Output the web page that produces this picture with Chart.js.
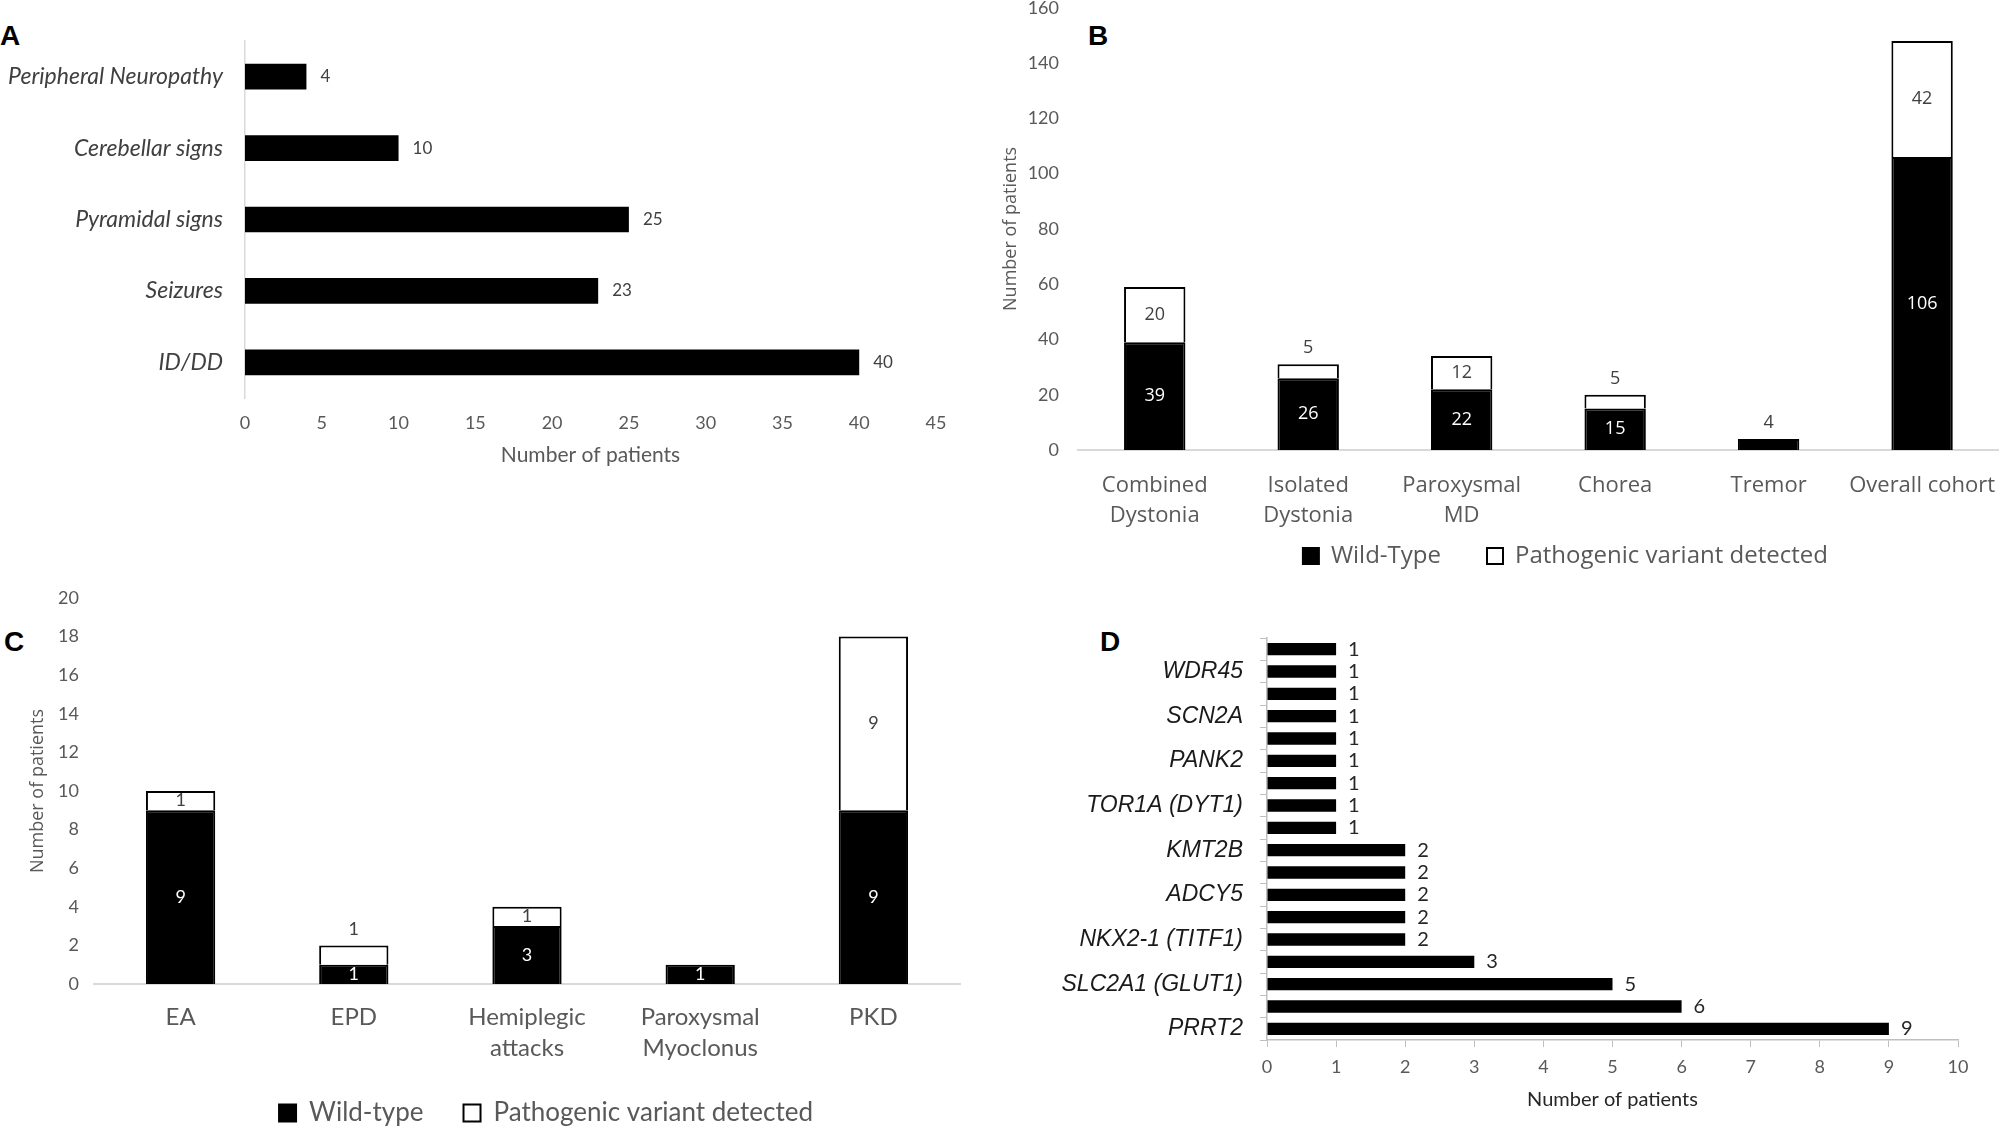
<!DOCTYPE html>
<html><head><meta charset="utf-8">
<script src="https://cdn.jsdelivr.net/npm/chart.js@4.4.1/dist/chart.umd.min.js"></script>
<style>
html,body{margin:0;padding:0;background:#fff;width:2000px;height:1128px;overflow:hidden;position:relative}
.panel{position:absolute}
.letter{position:absolute;font:bold 28px "Liberation Sans",Arial,sans-serif;color:#000;line-height:28px}
</style></head><body>
<div class="letter" style="left:0px;top:22px">A</div>
<div class="letter" style="left:1088px;top:22px">B</div>
<div class="letter" style="left:4px;top:628px">C</div>
<div class="letter" style="left:1100px;top:628px">D</div>
<div class="panel" style="left:0;top:0;width:980px;height:480px"><canvas id="cA"></canvas></div>
<div class="panel" style="left:960px;top:-22px;width:1055px;height:600px"><canvas id="cB"></canvas></div>
<div class="panel" style="left:0;top:570px;width:980px;height:566px"><canvas id="cC"></canvas></div>
<div class="panel" style="left:1000px;top:600px;width:1000px;height:528px"><canvas id="cD"></canvas></div>
<script>
// ---------- DATA ----------
const aCategories = ['Peripheral Neuropathy', 'Cerebellar signs', 'Pyramidal signs', 'Seizures', 'ID/DD'];
const aValues = [4, 10, 25, 23, 40];

const bCategories = [['Combined', 'Dystonia'], ['Isolated', 'Dystonia'], ['Paroxysmal', 'MD'], 'Chorea', 'Tremor', 'Overall cohort'];
const bWildType = [39, 26, 22, 15, 4, 106];
const bPathogenic = [20, 5, 12, 5, 0, 42];

const cCategories = ['EA', 'EPD', ['Hemiplegic', 'attacks'], ['Paroxysmal', 'Myoclonus'], 'PKD'];
const cWildType = [9, 1, 3, 1, 9];
const cPathogenic = [1, 1, 1, 0, 9];

const dGenes = ['', 'WDR45', '', 'SCN2A', '', 'PANK2', '', 'TOR1A (DYT1)', '', 'KMT2B', '', 'ADCY5', '', 'NKX2-1 (TITF1)', '', 'SLC2A1 (GLUT1)', '', 'PRRT2'];
const dValues = [1, 1, 1, 1, 1, 1, 1, 1, 1, 2, 2, 2, 2, 2, 3, 5, 6, 9];

const seriesNames = { wildB: 'Wild-Type', wildC: 'Wild-type', path: 'Pathogenic variant detected' };

// ---------- STYLE ----------
const GREY = '#595959';
const DARK = '#404040';
const AXIS = '#d9d9d9';
const CAL = 'Lato, "Noto Sans", sans-serif';
const SEG = '"Open Sans", "Noto Sans", sans-serif';
const ARI = '"Liberation Sans", Arial, sans-serif';

// let multi-line tick labels extend past the axis box
Chart.Scale.prototype._computeLabelArea = function () { return undefined; };

// shift legend horizontally
const legendShift = {
  id: 'legendShift',
  afterLayout(chart, args, opts) {
    if (chart.legend && opts.dx) { chart.legend.left += opts.dx; chart.legend.right += opts.dx; }
  }
};

// value label plugin
const valueLabels = {
  id: 'valueLabels',
  afterDatasetsDraw(chart, args, opts) {
    const ctx = chart.ctx;
    const sets = opts.sets || [];
    ctx.save();
    chart.data.datasets.forEach((ds, di) => {
      const cfg = sets[di];
      if (!cfg) return;
      const meta = chart.getDatasetMeta(di);
      meta.data.forEach((el, i) => {
        const v = ds.data[i];
        if (!v) return;
        const p = el.getProps(['x', 'y', 'base'], true);
        ctx.font = cfg.font;
        if (cfg.mode === 'end') {
          ctx.fillStyle = cfg.color;
          ctx.textAlign = 'left'; ctx.textBaseline = 'middle';
          ctx.fillText(String(v), p.x + cfg.offset, p.y);
        } else if (cfg.above && cfg.above.includes(i)) {
          let top = Infinity;
          chart.data.datasets.forEach((d2, dj) => {
            if (d2.data[i]) top = Math.min(top, chart.getDatasetMeta(dj).data[i].y);
          });
          ctx.fillStyle = cfg.aboveColor;
          ctx.textAlign = 'center'; ctx.textBaseline = 'middle';
          ctx.fillText(String(v), p.x, top - cfg.offset);
        } else {
          ctx.fillStyle = cfg.color;
          ctx.textAlign = 'center'; ctx.textBaseline = 'middle';
          ctx.fillText(String(v), p.x, (p.y + p.base) / 2);
        }
      });
    });
    ctx.restore();
  }
};
Chart.register(valueLabels, legendShift);
Chart.defaults.font.family = CAL;
Chart.defaults.color = GREY;

// ---------- PANEL A ----------
new Chart(document.getElementById('cA'), {
  type: 'bar',
  data: { labels: aCategories, datasets: [{ data: aValues, backgroundColor: '#000', borderColor: '#000', borderWidth: 0, barPercentage: 0.36, categoryPercentage: 1 }] },
  options: {
    indexAxis: 'y', responsive: true, maintainAspectRatio: false, animation: false,
    layout: { padding: { left: 0, right: 44, top: 41, bottom: 0 } },
    plugins: { legend: { display: false }, tooltip: { enabled: false },
      valueLabels: { sets: [{ mode: 'end', offset: 14, color: DARK, font: '17px ' + CAL }] } },
    scales: {
      x: { min: 0, max: 45, ticks: { stepSize: 5, padding: 14, color: GREY, font: { size: 18, family: CAL } },
        grid: { display: false, drawTicks: false }, border: { display: false },
        title: { display: true, text: 'Number of patients', color: GREY, font: { size: 21, family: CAL }, padding: { top: 0, bottom: 12 } },
        afterFit: s => { s.height = 82; } },
      y: { ticks: { padding: 22, color: DARK, font: { size: 23, style: 'italic', family: CAL } },
        grid: { display: false, drawTicks: false }, border: { display: true, color: AXIS, width: 1.5 },
        afterFit: s => { s.width = 245; } }
    }
  }
});

// ---------- PANEL B ----------
new Chart(document.getElementById('cB'), {
  type: 'bar',
  data: { labels: bCategories, datasets: [
    { label: seriesNames.wildB, data: bWildType, backgroundColor: '#000', borderColor: '#000', borderWidth: 2, barPercentage: 0.4, categoryPercentage: 1 },
    { label: seriesNames.path, data: bPathogenic, backgroundColor: '#fff', borderColor: '#000', borderWidth: 2, barPercentage: 0.4, categoryPercentage: 1 }
  ] },
  options: {
    responsive: true, maintainAspectRatio: false, animation: false,
    layout: { padding: { left: 0, right: 0, top: 0, bottom: 0 } },
    plugins: {
      legend: { display: true, position: 'bottom', fullSize: false,
        labels: { boxWidth: 16, boxHeight: 16, padding: 46, color: GREY, font: { size: 24, family: SEG } } },
      legendShift: { dx: 27 },
      tooltip: { enabled: false },
      valueLabels: { sets: [
        { mode: 'center', color: '#fff', font: '18px ' + SEG, above: [4], aboveColor: DARK, offset: 16 },
        { mode: 'center', color: DARK, font: '18px ' + SEG, above: [1, 3], aboveColor: DARK, offset: 16 }
      ] }
    },
    scales: {
      x: { stacked: true, ticks: { padding: 20, color: GREY, font: { size: 22, family: SEG, lineHeight: 1.4 } },
        grid: { display: false, drawTicks: false }, border: { display: true, color: AXIS, width: 2 },
        afterFit: s => { s.height = 48; } },
      y: { stacked: true, min: 0, max: 160, ticks: { stepSize: 20, padding: 19, color: GREY, font: { size: 18, family: CAL } },
        grid: { display: false, drawTicks: false }, border: { display: false },
        title: { display: true, text: 'Number of patients', color: GREY, font: { size: 18, family: SEG }, padding: { top: 40, bottom: 0 } },
        afterFit: s => { s.width = 118; } }
    }
  }
});

// ---------- PANEL C ----------
new Chart(document.getElementById('cC'), {
  type: 'bar',
  data: { labels: cCategories, datasets: [
    { label: seriesNames.wildC, data: cWildType, backgroundColor: '#000', borderColor: '#000', borderWidth: 2, barPercentage: 0.4, categoryPercentage: 1 },
    { label: seriesNames.path, data: cPathogenic, backgroundColor: '#fff', borderColor: '#000', borderWidth: 2, barPercentage: 0.4, categoryPercentage: 1 }
  ] },
  options: {
    responsive: true, maintainAspectRatio: false, animation: false,
    layout: { padding: { left: 0, right: 20, top: 28, bottom: 0 } },
    plugins: {
      legend: { display: true, position: 'bottom', fullSize: false,
        labels: { boxWidth: 17, boxHeight: 17, padding: 40, color: GREY, font: { size: 26, family: CAL } } },
      legendShift: { dx: 19 },
      tooltip: { enabled: false },
      valueLabels: { sets: [
        { mode: 'center', color: '#fff', font: '18px ' + CAL },
        { mode: 'center', color: DARK, font: '18px ' + CAL, above: [1], aboveColor: DARK, offset: 16 }
      ] }
    },
    scales: {
      x: { stacked: true, ticks: { padding: 18, color: GREY, font: { size: 24, family: CAL, lineHeight: 1.275 } },
        grid: { display: false, drawTicks: false }, border: { display: true, color: AXIS, width: 2 },
        afterFit: s => { s.height = 76; } },
      y: { stacked: true, min: 0, max: 20, ticks: { stepSize: 2, padding: 15, color: GREY, font: { size: 18, family: CAL } },
        grid: { display: false, drawTicks: false }, border: { display: false },
        title: { display: true, text: 'Number of patients', color: GREY, font: { size: 18, family: SEG }, padding: { top: 27, bottom: 0 } },
        afterFit: s => { s.width = 94; } }
    }
  }
});

// ---------- PANEL D ----------
new Chart(document.getElementById('cD'), {
  type: 'bar',
  data: { labels: dGenes, datasets: [{ data: dValues, backgroundColor: '#000', borderColor: '#000', borderWidth: 0, barPercentage: 0.55, categoryPercentage: 1 }] },
  options: {
    indexAxis: 'y', responsive: true, maintainAspectRatio: false, animation: false,
    layout: { padding: { left: 0, right: 42, top: 38, bottom: 0 } },
    plugins: { legend: { display: false }, tooltip: { enabled: false },
      valueLabels: { sets: [{ mode: 'end', offset: 12, color: '#262626', font: '20px ' + CAL }] } },
    scales: {
      x: { min: 0, max: 10, ticks: { stepSize: 1, padding: 9, color: GREY, font: { size: 18, family: CAL } },
        grid: { display: true, drawOnChartArea: false, drawTicks: true, tickLength: 7, color: '#bfbfbf' },
        border: { display: true, color: '#bfbfbf', width: 1.5 },
        title: { display: true, text: 'Number of patients', color: '#262626', font: { size: 20, family: CAL }, padding: { top: 0, bottom: 16 } },
        afterFit: s => { s.height = 88; } },
      y: { ticks: { autoSkip: false, padding: 17, color: '#1a1a1a', font: { size: 23, style: 'italic', family: ARI } },
        grid: { display: true, drawOnChartArea: false, drawTicks: true, tickLength: 7, color: '#bfbfbf' },
        border: { display: true, color: '#bfbfbf', width: 1.5 },
        afterFit: s => { s.width = 267; } }
    }
  }
});
</script>
</body></html>
